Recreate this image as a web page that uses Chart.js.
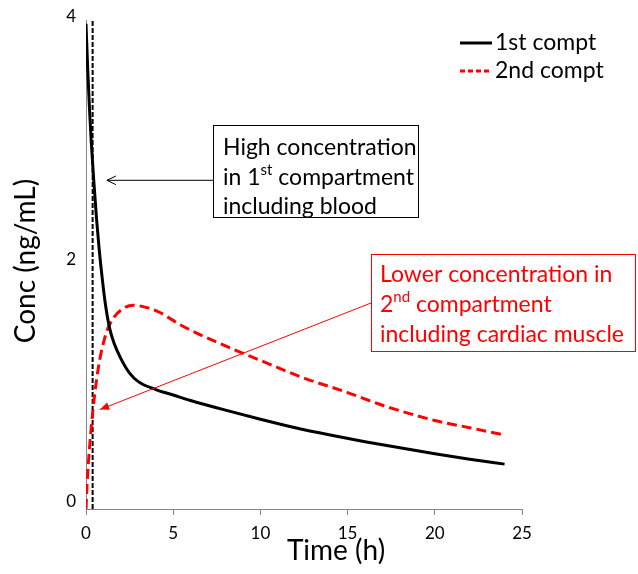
<!DOCTYPE html>
<html>
<head>
<meta charset="utf-8">
<script src="https://cdn.jsdelivr.net/npm/chart.js@4.4.0/dist/chart.umd.min.js"></script>
<style>
  html, body { margin: 0; padding: 0; background: #fff; }
</style>
</head>
<body>
<canvas id="chart" width="638" height="574"></canvas>
<script>
// ── Data ───────────────────────────────────────────────────────────────────
const firstTime  = [0, 0.1, 0.2, 0.3, 0.45, 0.6, 0.75, 0.9, 1.1, 1.34, 1.6, 2, 2.5, 3, 4, 5, 6, 8, 10, 12, 14, 16, 18, 20, 22, 24];
const firstConc  = [4.0, 3.62, 3.3, 3.03, 2.7, 2.4, 2.15, 1.94, 1.7, 1.5, 1.37, 1.24, 1.12, 1.05, 0.985, 0.94, 0.895, 0.815, 0.74, 0.67, 0.61, 0.555, 0.505, 0.455, 0.41, 0.37];

const secondTime = [0, 0.06, 0.2, 0.4, 0.6, 0.8, 1, 1.2, 1.6, 2, 2.7, 3.5, 4.24, 5.39, 7.11, 10, 12.5, 15, 17, 20, 22, 24];
const secondConc = [0, 0.2, 0.5, 0.82, 1.06, 1.24, 1.37, 1.47, 1.58, 1.64, 1.68, 1.66, 1.62, 1.52, 1.4, 1.225, 1.08, 0.96, 0.855, 0.73, 0.67, 0.61];

// vertical dashed marker line
const markerTime = [0.38, 0.38];
const markerConc = [0, 4.03];

const xTicks = [0, 5, 10, 15, 20, 25];
const yTicks = [0, 2, 4];
const seriesNames = ["1st compt", "2nd compt"];

const FONT = "Lato, 'Open Sans', sans-serif";
const RED  = "#ff0000";
const NOTE = 23;   // callout / legend font size

function toPoints(xs, ys) {
  return xs.map((x, i) => ({ x, y: ys[i] }));
}

// text with superscript runs: parts = [[text, isSup], ...]
function drawRich(ctx, parts, x, y, size) {
  let cx = x;
  parts.forEach(([txt, sup]) => {
    const s = sup ? Math.round(size * 0.65) : size;
    ctx.font = `${s}px ${FONT}`;
    ctx.fillText(txt, cx, sup ? y - size * 0.36 : y);
    cx += ctx.measureText(txt).width;
  });
}

function arrowHead(ctx, tipX, tipY, fromX, fromY, len, half, filled) {
  const a = Math.atan2(tipY - fromY, tipX - fromX);
  const p1 = [tipX - len * Math.cos(a - half), tipY - len * Math.sin(a - half)];
  const p2 = [tipX - len * Math.cos(a + half), tipY - len * Math.sin(a + half)];
  ctx.beginPath();
  ctx.moveTo(p1[0], p1[1]);
  ctx.lineTo(tipX, tipY);
  ctx.lineTo(p2[0], p2[1]);
  if (filled) { ctx.closePath(); ctx.fill(); } else { ctx.stroke(); }
}

// ── Overlay: axis titles, legend, callouts ─────────────────────────────────
const overlay = {
  id: "overlay",
  afterDraw(chart) {
    const { ctx, scales: { x, y } } = chart;
    ctx.save();
    ctx.fillStyle = "#000";
    ctx.textBaseline = "middle";

    // axis titles
    ctx.font = `28px ${FONT}`;
    ctx.textAlign = "center";
    ctx.fillText("Time (h)", 336, 551);
    ctx.save();
    ctx.translate(26, 261);
    ctx.rotate(-Math.PI / 2);
    ctx.fillText("Conc (ng/mL)", 0, 0);
    ctx.restore();

    // legend (first two datasets)
    ctx.textAlign = "left";
    ctx.font = `${NOTE}px ${FONT}`;
    chart.data.datasets.slice(0, 2).forEach((ds, i) => {
      const ly = 43 + i * 28;
      ctx.strokeStyle = ds.borderColor;
      ctx.lineWidth = 3;
      ctx.setLineDash(ds.borderDash ? [5, 3] : []);
      ctx.beginPath();
      ctx.moveTo(460, ly);
      ctx.lineTo(492, ly);
      ctx.stroke();
      ctx.setLineDash([]);
      ctx.fillStyle = "#000";
      ctx.fillText(ds.label, 495, ly);
    });

    // callout 1: black box + arrow
    const tip1 = [x.getPixelForValue(1.2), y.getPixelForValue(2.71)];
    ctx.strokeStyle = "#000";
    ctx.lineWidth = 1;
    ctx.beginPath();
    ctx.moveTo(213, tip1[1]);
    ctx.lineTo(tip1[0], tip1[1]);
    ctx.stroke();
    arrowHead(ctx, tip1[0], tip1[1], 213, tip1[1], 10, 0.45, false);
    ctx.fillStyle = "#fff";
    ctx.fillRect(213.5, 125.5, 205, 92);
    ctx.strokeRect(213.5, 125.5, 205, 92);
    ctx.fillStyle = "#000";
    drawRich(ctx, [["High concentration", false]], 223, 148, NOTE);
    drawRich(ctx, [["in 1", false], ["st", true], [" compartment", false]], 223, 178, NOTE);
    drawRich(ctx, [["including blood", false]], 223, 207, NOTE);

    // callout 2: red box + arrow
    const tip2 = [x.getPixelForValue(0.8), y.getPixelForValue(0.82)];
    ctx.strokeStyle = RED;
    ctx.fillStyle = RED;
    ctx.beginPath();
    ctx.moveTo(371, 303);
    ctx.lineTo(tip2[0], tip2[1]);
    ctx.stroke();
    arrowHead(ctx, tip2[0], tip2[1], 371, 303, 10, 0.4, true);
    ctx.fillStyle = "#fff";
    ctx.fillRect(371.5, 254.5, 264, 97);
    ctx.strokeRect(371.5, 254.5, 264, 97);
    ctx.fillStyle = RED;
    drawRich(ctx, [["Lower concentration in", false]], 380, 275, NOTE);
    drawRich(ctx, [["2", false], ["nd", true], [" compartment", false]], 380, 305, NOTE);
    drawRich(ctx, [["including cardiac muscle", false]], 380, 335, NOTE);

    ctx.restore();
  }
};

new Chart(document.getElementById("chart"), {
  type: "line",
  data: {
    datasets: [
      {
        label: seriesNames[0],
        data: toPoints(firstTime, firstConc),
        borderColor: "#000",
        borderWidth: 3,
        pointRadius: 0,
        cubicInterpolationMode: "monotone",
      },
      {
        label: seriesNames[1],
        data: toPoints(secondTime, secondConc),
        borderColor: RED,
        borderWidth: 3,
        borderDash: [10, 5],
        pointRadius: 0,
        cubicInterpolationMode: "monotone",
      },
      {
        label: "marker",
        data: toPoints(markerTime, markerConc),
        borderColor: "#000",
        borderWidth: 2,
        borderDash: [5, 2],
        pointRadius: 0,
      },
    ],
  },
  options: {
    responsive: false,
    animation: false,
    devicePixelRatio: 1,
    layout: { padding: { left: 0, top: 13, right: 116, bottom: 0 } },
    plugins: {
      legend: { display: false },
      tooltip: { enabled: false },
    },
    scales: {
      x: {
        type: "linear",
        min: 0,
        max: 25,
        afterBuildTicks: s => { s.ticks = xTicks.map(v => ({ value: v })); },
        afterFit: s => { s.height = 65; },
        grid: { drawOnChartArea: false, drawTicks: true, tickLength: 6, color: "#868686" },
        border: { display: true, color: "#868686", width: 1 },
        ticks: { color: "#000", padding: 8, font: { family: FONT, size: 17 } },
      },
      y: {
        type: "linear",
        min: 0,
        max: 4.03,
        afterBuildTicks: s => { s.ticks = yTicks.map(v => ({ value: v })); },
        afterFit: s => { s.width = 86; },
        grid: { display: false, drawTicks: false },
        border: { display: true, color: "#868686", width: 1 },
        ticks: { color: "#000", padding: 10, labelOffset: -7, font: { family: FONT, size: 17 } },
      },
    },
  },
  plugins: [overlay],
});
</script>
</body>
</html>
